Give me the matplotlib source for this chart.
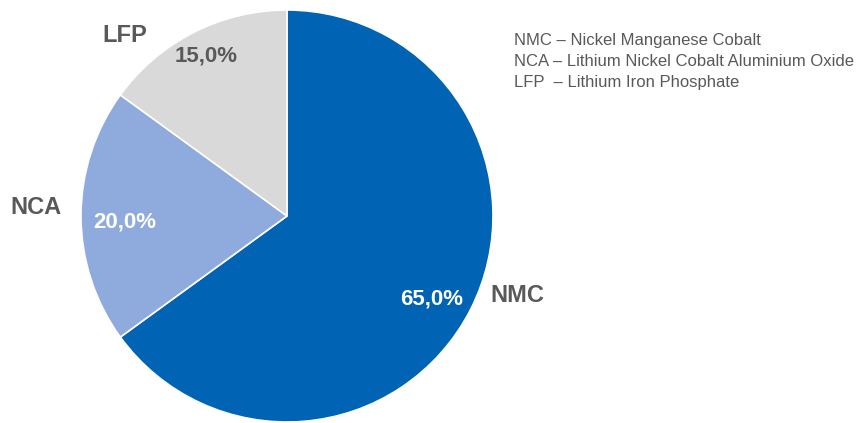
import numpy as np
import matplotlib
import matplotlib.pyplot as plt

matplotlib.rcParams['font.family'] = ['Liberation Sans', 'DejaVu Sans']

names = ['NMC', 'NCA', 'LFP']
shares = [65.0, 20.0, 15.0]
colors = ['#0063B4', '#8FAADC', '#D9D9D9']
pct_colors = ['white', 'white', '#595959']
legend_lines = ['NMC – Nickel Manganese Cobalt',
                'NCA – Lithium Nickel Cobalt Aluminium Oxide',
                'LFP  – Lithium Iron Phosphate']

# (radius, angle shift in degrees) for percentage and name labels
pct_pos = [(0.81, -3), (0.79, 2), (0.87, 0)]
name_pos = [(1.18, 8), (1.22, -2), (1.18, 15)]

W, H = 860, 423
fig = plt.figure(figsize=(W / 100, H / 100), dpi=100)
cx, cy, r = 287, 216, 206
ax = fig.add_axes([(cx - r) / W, (H - cy - r) / H, 2 * r / W, 2 * r / H])

wedges, _ = ax.pie(shares, colors=colors, startangle=90, counterclock=False,
                   radius=1, wedgeprops=dict(edgecolor='white', linewidth=1.2))
ax.set_xlim(-1, 1)
ax.set_ylim(-1, 1)
ax.set_aspect('equal')
ax.axis('off')

for w, n, s, pc, pp, npos in zip(wedges, names, shares, pct_colors, pct_pos, name_pos):
    mid = (w.theta1 + w.theta2) / 2
    a = np.deg2rad(mid + pp[1])
    ax.text(pp[0] * np.cos(a), pp[0] * np.sin(a), ('%.1f%%' % s).replace('.', ','),
            ha='center', va='center', fontsize=16, fontweight='bold', color=pc)
    a = np.deg2rad(mid + npos[1])
    ax.text(npos[0] * np.cos(a), npos[0] * np.sin(a), n, ha='center', va='center',
            fontsize=17, fontweight='bold', color='#595959', clip_on=False)

for i, line in enumerate(legend_lines):
    fig.text(514 / W, 1 - (41 + i * 20.5) / H, line, ha='left', va='center',
             fontsize=12, color='#595959')

fig.savefig('out.png', dpi=100)
